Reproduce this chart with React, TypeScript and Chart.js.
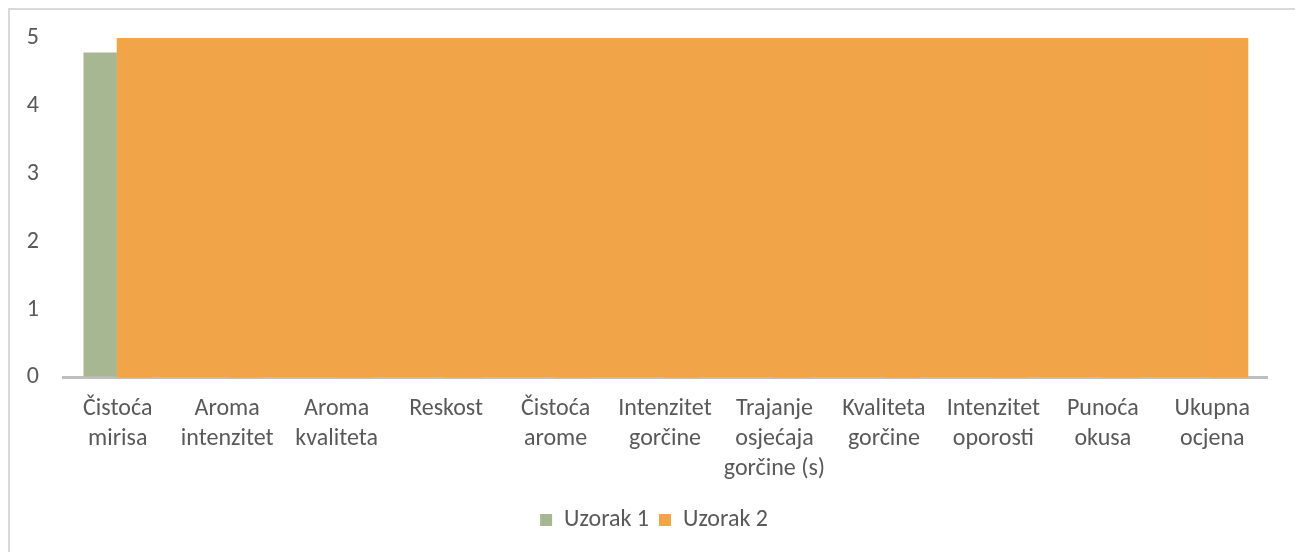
import React, { useEffect, useRef } from "react";
import { Chart, registerables } from "chart.js";

Chart.register(...registerables);

// ---- data ----
const categories: string[][] = [
  ["Čistoća", "mirisa"],
  ["Aroma", "intenzitet"],
  ["Aroma", "kvaliteta"],
  ["Reskost"],
  ["Čistoća", "arome"],
  ["Intenzitet", "gorčine"],
  ["Trajanje", "osjećaja", "gorčine (s)"],
  ["Kvaliteta", "gorčine"],
  ["Intenzitet", "oporosti"],
  ["Punoća", "okusa"],
  ["Ukupna", "ocjena"],
];
const seriesNames = ["Uzorak 1", "Uzorak 2"];
const uzorak1 = [4.8, 3.8, 3.2, 4.0, 4.8, 4.0, 3.1, 3.6, 4.0, 2.2, 3.0];
const uzorak2 = [5, 5, 5, 5, 5, 5, 5, 5, 5, 5, 5];
const yMin = 0;
const yMax = 5;
const yStep = 1;

// ---- styles ----
const GREEN = "#a7b791";
const ORANGE = "#f2a548";
const TEXT = "#595959";
const AXIS = "#bfbfbf";
const FONT = "Carlito, Lato, sans-serif";

export default function App() {
  const ref = useRef<HTMLCanvasElement | null>(null);

  useEffect(() => {
    document.body.style.overflow = "hidden";
    const canvas = ref.current;
    if (!canvas) return;
    const chart = new Chart(canvas, {
      type: "bar",
      data: {
        labels: categories,
        datasets: [
          {
            type: "bar",
            label: seriesNames[0],
            data: uzorak1,
            backgroundColor: GREEN,
            borderWidth: 0,
            inflateAmount: -0.8,
            categoryPercentage: 0.64,
            barPercentage: 1,
            order: 1,
          },
          {
            type: "bar",
            label: seriesNames[1],
            data: uzorak2,
            backgroundColor: ORANGE,
            borderWidth: 0,
            inflateAmount: 1,
            clip: 0,
            categoryPercentage: 0.64,
            barPercentage: 1,
            order: 2,
          },
          {
            type: "line",
            label: seriesNames[1] + "#fill",
            data: uzorak2,
            backgroundColor: ORANGE,
            borderColor: ORANGE,
            borderWidth: 0,
            pointRadius: 0,
            fill: "origin",
            clip: 0,
            order: 0,
          } as any,
        ],
      },
      options: {
        animation: false,
        responsive: false,
        layout: { padding: { top: 13, right: 0, bottom: 24, left: 0 } },
        plugins: {
          legend: {
            position: "bottom",
            labels: {
              filter: (item: any) => item.datasetIndex !== 2,
              boxWidth: 12,
              boxHeight: 12,
              padding: 10,
              color: TEXT,
              font: { family: FONT, size: 24 },
            },
          },
          tooltip: { enabled: false },
        },
        scales: {
          x: {
            z: 1,
            grid: { display: false },
            border: { display: true, color: AXIS, width: 3 },
            ticks: {
              color: TEXT,
              font: { family: FONT, size: 24, lineHeight: 1.25 },
              padding: 9,
              maxRotation: 0,
              autoSkip: false,
            },
            afterFit: (s: any) => {
              s.height = 120.6;
            },
          },
          y: {
            min: yMin,
            max: yMax,
            grid: { display: false },
            border: { display: false },
            ticks: {
              stepSize: yStep,
              color: TEXT,
              font: { family: FONT, size: 24, lineHeight: 1.0 },
              padding: 16,
            },
            afterFit: (s: any) => {
              s.width = 53;
            },
          },
          yRight: {
            position: "right",
            display: true,
            grid: { display: false },
            border: { display: false },
            ticks: { display: false },
            afterFit: (s: any) => {
              s.width = 31;
            },
          },
        },
      } as any,
    });
    return () => chart.destroy();
  }, []);

  return (
    <div
      style={{
        position: "relative",
        width: 1288,
        height: 556,
        border: "2px solid #d9d9d9",
        background: "#fff",
      }}
    >
      <canvas ref={ref} width={1288} height={556} style={{ display: "block" }} />
    </div>
  );
}
